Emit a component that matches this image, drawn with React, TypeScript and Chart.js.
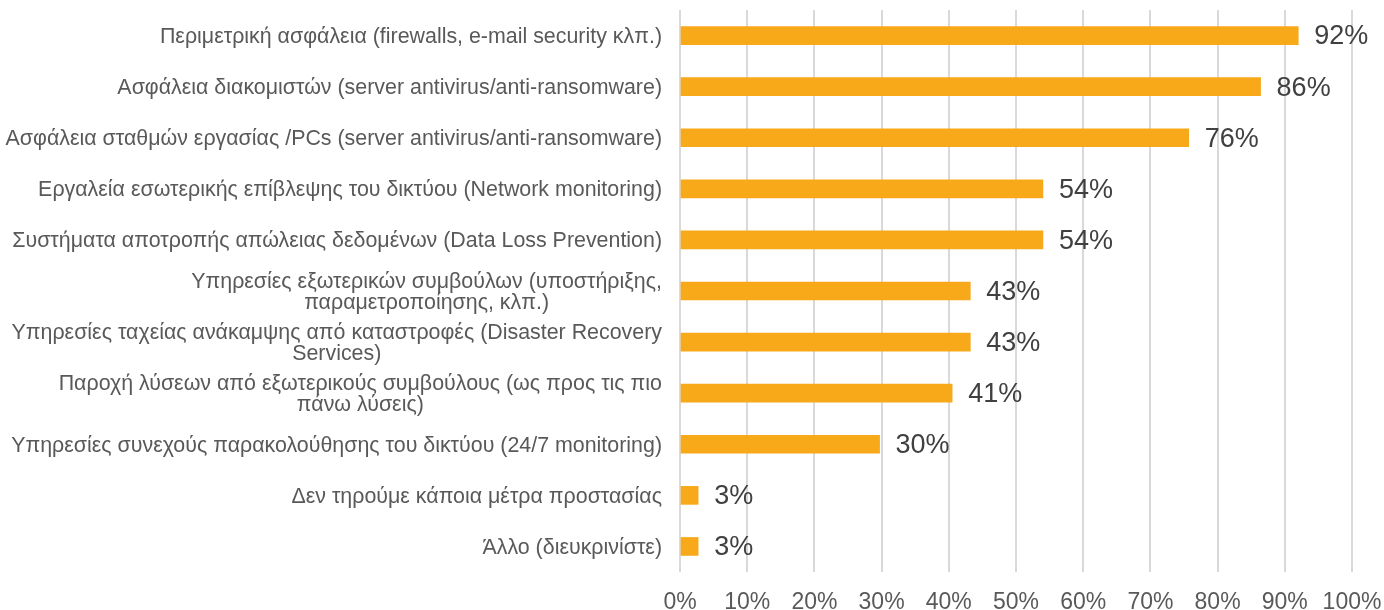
import React, { useEffect, useRef } from "react";
import { Chart, registerables } from "chart.js";

Chart.register(...registerables);

const categories: string[][] = [
  ["Περιμετρική ασφάλεια (firewalls, e-mail security κλπ.)"],
  ["Ασφάλεια διακομιστών (server antivirus/anti-ransomware)"],
  ["Ασφάλεια σταθμών εργασίας /PCs (server antivirus/anti-ransomware)"],
  ["Εργαλεία εσωτερικής επίβλεψης του δικτύου (Network monitoring)"],
  ["Συστήματα αποτροπής απώλειας δεδομένων (Data Loss Prevention)"],
  ["Υπηρεσίες εξωτερικών συμβούλων (υποστήριξης,", "παραμετροποίησης, κλπ.)"],
  ["Υπηρεσίες ταχείας ανάκαμψης από καταστροφές (Disaster Recovery", "Services)"],
  ["Παροχή λύσεων από εξωτερικούς συμβούλους (ως προς τις πιο", "πάνω λύσεις)"],
  ["Υπηρεσίες συνεχούς παρακολούθησης του δικτύου (24/7 monitoring)"],
  ["Δεν τηρούμε κάποια μέτρα προστασίας"],
  ["Άλλο (διευκρινίστε)"],
];

const values: number[] = [92, 86.4, 75.7, 54, 54, 43.2, 43.2, 40.5, 29.7, 2.7, 2.7];

const xTicks: number[] = [0, 10, 20, 30, 40, 50, 60, 70, 80, 90, 100];

const FONT = '"Liberation Sans", Arial, sans-serif';

export default function App() {
  const ref = useRef<HTMLCanvasElement | null>(null);

  useEffect(() => {
    if (!ref.current) return;

    const labelPlugin = {
      id: "customLabels",
      afterDatasetsDraw(chart: any) {
        const ctx = chart.ctx;
        const yScale = chart.scales.y;
        const meta = chart.getDatasetMeta(0);
        ctx.save();
        // category labels, multi-line centered like Excel
        ctx.font = `21.4px ${FONT}`;
        ctx.fillStyle = "#595959";
        ctx.textBaseline = "middle";
        const rightEdge = chart.chartArea.left - 18;
        const lineH = 21.5;
        categories.forEach((lines, i) => {
          const cy = yScale.getPixelForValue(i) + 1.5;
          const widths = lines.map((l) => ctx.measureText(l).width);
          const blockW = Math.max(...widths);
          const startY = cy - ((lines.length - 1) * lineH) / 2;
          lines.forEach((l, j) => {
            ctx.textAlign = "center";
            ctx.fillText(l, rightEdge - blockW / 2, startY + j * lineH);
          });
        });
        // data labels
        ctx.font = `27px ${FONT}`;
        ctx.fillStyle = "#404040";
        ctx.textAlign = "left";
        meta.data.forEach((bar: any, i: number) => {
          ctx.fillText(Math.round(values[i]) + "%", bar.x + 16, bar.y + 1.5);
        });
        ctx.restore();
      },
    };

    const chart = new Chart(ref.current, {
      type: "bar",
      data: {
        labels: categories.map((c) => c.join(" ")),
        datasets: [
          {
            data: values,
            backgroundColor: "#F8A91A",
            barThickness: 18,
            borderWidth: 0,
          },
        ],
      },
      options: {
        indexAxis: "y",
        animation: false,
        responsive: true,
        maintainAspectRatio: false,
        layout: { padding: { top: 10, right: 32, bottom: 0, left: 0 } },
        plugins: {
          legend: { display: false },
          tooltip: { enabled: false },
          title: { display: false },
        },
        scales: {
          x: {
            min: 0,
            max: 100,
            afterBuildTicks(scale: any) {
              scale.ticks = xTicks.map((v) => ({ value: v }));
            },
            afterFit(scale: any) {
              scale.height = 38;
              scale.paddingLeft = 0;
              scale.paddingRight = 0;
            },
            border: { display: false },
            grid: { color: "#D9D9D9", lineWidth: 2, drawTicks: false },
            ticks: {
              padding: 17,
              color: "#595959",
              font: { family: FONT, size: 23 },
              callback: (v: any) => v + "%",
            },
          },
          y: {
            afterFit(scale: any) {
              scale.width = 680;
            },
            border: { display: false },
            grid: { display: false },
            ticks: { display: false },
          },
        },
      },
      plugins: [labelPlugin],
    });

    return () => chart.destroy();
  }, []);

  return (
    <div style={{ position: "fixed", left: 0, top: 0, width: 1384, height: 610, background: "#fff" }}>
      <canvas ref={ref} />
    </div>
  );
}
